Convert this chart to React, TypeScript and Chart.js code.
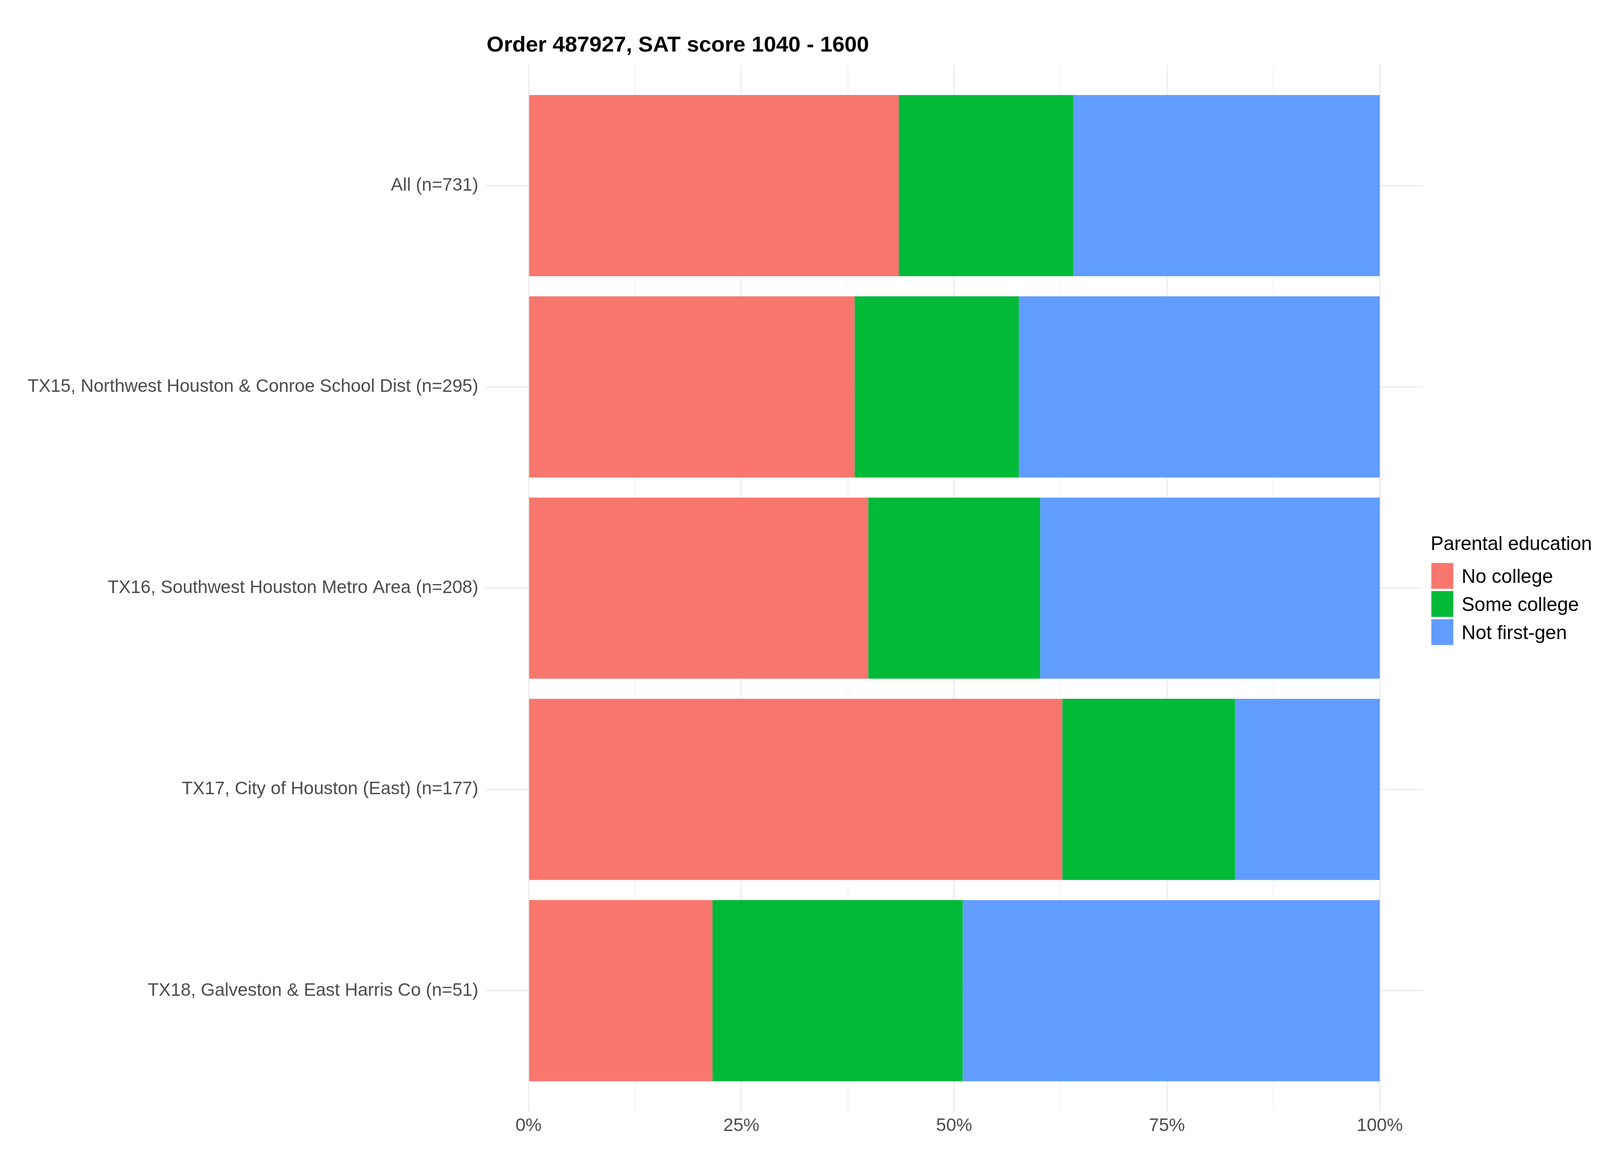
import React, { useEffect, useRef } from 'react';
import { Chart, registerables } from 'chart.js';

Chart.register(...registerables);

const categories = [
  'All (n=731)',
  'TX15, Northwest Houston & Conroe School Dist (n=295)',
  'TX16, Southwest Houston Metro Area (n=208)',
  'TX17, City of Houston (East) (n=177)',
  'TX18, Galveston & East Harris Co (n=51)',
];
const seriesNames = ['No college', 'Some college', 'Not first-gen'];
const noCollege = [43.5, 38.3, 39.9, 62.7, 21.6];
const someCollege = [20.5, 19.3, 20.2, 20.3, 29.4];
const notFirstGen = [36.0, 42.4, 39.9, 17.0, 49.0];
const seriesColors = ['#F8766D', '#00BA38', '#619CFF'];
const xTickValues = [0, 25, 50, 75, 100];
const xTickLabels = ['0%', '25%', '50%', '75%', '100%'];
const xMinorValues = [12.5, 37.5, 62.5, 87.5];
const titleText = 'Order 487927, SAT score 1040 - 1600';
const legendTitle = 'Parental education';

const FONT = '"Liberation Sans", Arial, Helvetica, sans-serif';

export default function App() {
  const canvasRef = useRef<HTMLCanvasElement | null>(null);
  const W = typeof window !== 'undefined' ? window.innerWidth : 4800;
  const H = typeof window !== 'undefined' ? window.innerHeight : 3000;

  useEffect(() => {
    if (!canvasRef.current) return;
    const sx = W / 4800;
    const sy = H / 3000;
    const sf = Math.min(sx, sy);

    const overlayPlugin = {
      id: 'overlay',
      afterDraw(chart: any) {
        const ctx = chart.ctx;
        ctx.save();
        ctx.fillStyle = '#000000';
        ctx.textAlign = 'left';
        ctx.textBaseline = 'alphabetic';
        ctx.font = `bold ${66 * sf}px ${FONT}`;
        ctx.fillText(titleText, chart.chartArea.left + 2 * sx, 132 * sy);

        const lx = 4294 * sx;
        ctx.font = `${58 * sf}px ${FONT}`;
        ctx.fillText(legendTitle, lx - 2 * sx, 1408 * sy);
        const keyW = 66 * sx;
        const keyH = 66 * sy;
        const keyStep = 72 * sy;
        const keyTop = 1441 * sy;
        chart.data.datasets.forEach((ds: any, i: number) => {
          const y = keyTop + i * keyStep;
          ctx.fillStyle = ds.backgroundColor;
          ctx.fillRect(lx, y, keyW, keyH);
          ctx.fillStyle = '#000000';
          ctx.font = `${58 * sf}px ${FONT}`;
          ctx.fillText(ds.label, lx + 91 * sx, y + keyH / 2 + 21 * sf);
        });
        ctx.restore();
      },
    };

    const seriesValues = [noCollege, someCollege, notFirstGen];
    const chart = new Chart(canvasRef.current, {
      type: 'bar',
      data: {
        datasets: seriesValues.map((vals, si) => ({
          label: seriesNames[si],
          data: vals.map((v, i) => ({ x: v, y: i })),
          backgroundColor: seriesColors[si],
          borderWidth: 0,
          barPercentage: 0.9,
          categoryPercentage: 1,
        })),
      },
      options: {
        responsive: false,
        maintainAspectRatio: false,
        animation: false,
        indexAxis: 'y',
        layout: { padding: { top: 166 * sy, right: 533 * sx, bottom: 0, left: 0 } },
        plugins: {
          legend: { display: false },
          tooltip: { enabled: false },
          title: { display: false },
        },
        scales: {
          x: {
            type: 'linear',
            position: 'bottom',
            stacked: true,
            offset: false,
            min: -5,
            max: 105,
            afterBuildTicks: (s: any) => {
              s.ticks = [...xTickValues, ...xMinorValues]
                .sort((a, b) => a - b)
                .map((v) => ({ value: v }));
            },
            afterFit: (s: any) => {
              s.height = 155 * sy;
            },
            grid: {
              offset: false,
              color: '#EBEBEB',
              lineWidth: (c: any) => (c.tick && xTickValues.includes(c.tick.value) ? 3.5 * sf : 1.7 * sf),
              drawTicks: false,
            },
            border: { display: false },
            ticks: {
              padding: 10 * sy,
              color: '#4D4D4D',
              font: { family: FONT, size: 54 * sf },
              autoSkip: false,
              maxRotation: 0,
              callback: (v: any) => {
                const i = xTickValues.indexOf(Number(v));
                return i >= 0 ? xTickLabels[i] : '';
              },
            },
          },
          y: {
            type: 'linear',
            stacked: true,
            reverse: true,
            offset: false,
            min: -0.6,
            max: 4.6,
            afterBuildTicks: (s: any) => {
              s.ticks = categories.map((_, i) => ({ value: i }));
            },
            afterFit: (s: any) => {
              s.width = 1458 * sx;
            },
            grid: { offset: false, color: '#EBEBEB', lineWidth: 3.5 * sf, drawTicks: false },
            border: { display: false },
            ticks: {
              padding: 23 * sx,
              color: '#4D4D4D',
              font: { family: FONT, size: 54 * sf },
              autoSkip: false,
              callback: (v: any) => categories[Number(v)] ?? '',
            },
          },
        },
      } as any,
      plugins: [overlayPlugin],
    });
    return () => chart.destroy();
  }, []);

  return (
    <div style={{ position: 'fixed', left: 0, top: 0, width: W, height: H, background: '#FFFFFF' }}>
      <canvas ref={canvasRef} width={W} height={H} style={{ width: W, height: H, display: 'block' }} />
    </div>
  );
}
